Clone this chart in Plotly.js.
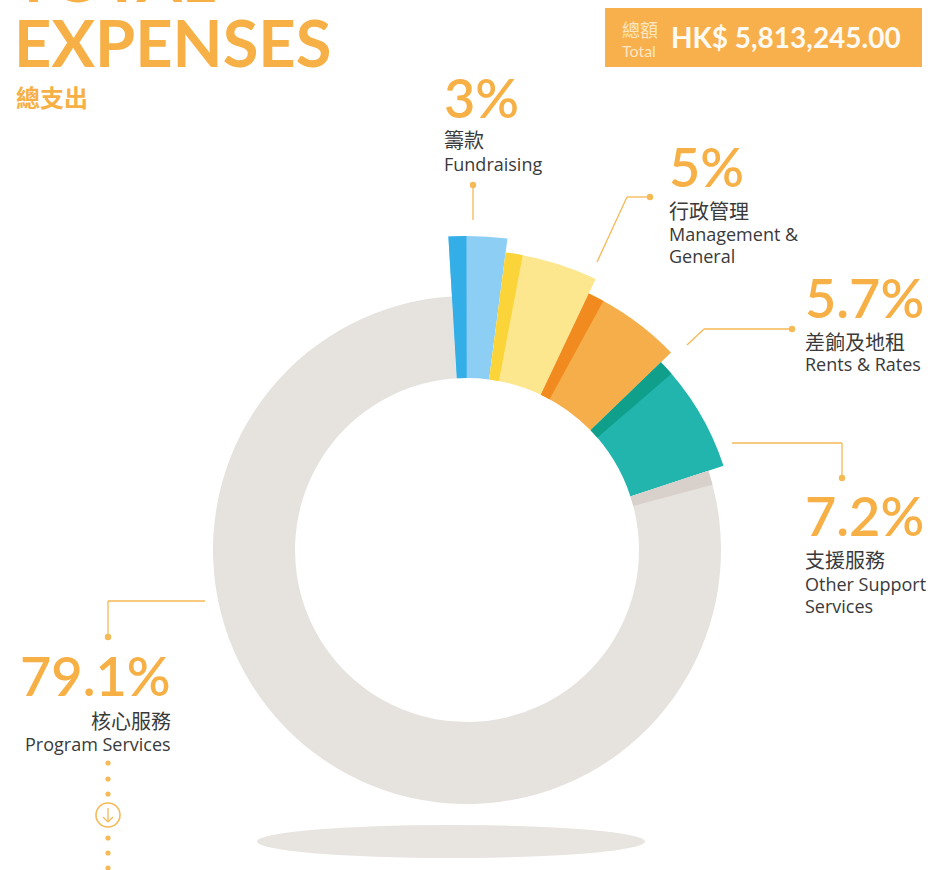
<!DOCTYPE html>
<html>
<head>
<meta charset="utf-8">
<script src="https://cdn.plot.ly/plotly-3.0.1.min.js"></script>
<style>
  html, body { margin: 0; padding: 0; background: #ffffff; }
  #chart { width: 936px; height: 870px; }
</style>
</head>
<body>
<div id="chart"></div>
<script>
// ---------- DATA ----------
const categories   = ['Fundraising', 'Management & General', 'Rents & Rates', 'Other Support Services', 'Program Services'];
const categoriesZh = ['籌款', '行政管理', '差餉及地租', '支援服務', '核心服務'];
const labelLinesEn = [['Fundraising'], ['Management &', 'General'], ['Rents & Rates'], ['Other Support', 'Services'], ['Program Services']];
const percentages  = [3, 5, 5.7, 7.2, 79.1];
const totalAmount  = 5813245.00;

// ---------- STYLE ----------
const W = 936, H = 870;
const CX = 467, CY = 550;          // donut centre (px)
const RMAX = 320;                  // radial range maps to 320 px
const innerR = 172;
const outerR = [314, 300, 284, 270, 254];
const mainColors  = ['#8dcff4', '#fde78e', '#f6ae4a', '#21b5ae', '#e6e2de'];
const stripColors = ['#34aee6', '#fbd43a', '#f18b1f', '#0f9f8b', '#d8d0ca'];
const stripDeg = 3.3;
const startDeg = -3.4;
const ORANGE = '#f6b045';
const LINE = '#f5b955';
const TEXT = '#3a3a3a';
const LATIN = 'Lato, "Noto Sans", sans-serif';
const LABEL = '"Open Sans", Lato, sans-serif';
const CJK = '"Noto Sans CJK TC", "Noto Sans CJK SC", sans-serif';

// ---------- geometry from data ----------
const widths = percentages.map(p => p * 3.6);
const starts = [];
let acc = startDeg;
widths.forEach(w => { starts.push(acc); acc += w; });
const centers = starts.map((s, i) => s + widths[i] / 2);

const px = x => x / W;
const py = y => 1 - y / H;

const mainTrace = {
  type: 'barpolar',
  theta: centers,
  width: widths,
  base: outerR.map(() => innerR),
  r: outerR.map(r => r - innerR),
  marker: { color: mainColors, line: { width: 0 } },
  text: categories,
  hoverinfo: 'text',
  showlegend: false
};
const stripTrace = {
  type: 'barpolar',
  theta: starts.map(s => s + stripDeg / 2),
  width: starts.map(() => stripDeg),
  base: outerR.map(() => innerR),
  r: outerR.map(r => r - innerR),
  marker: { color: stripColors, line: { width: 0 } },
  hoverinfo: 'skip',
  showlegend: false
};

// ---------- annotations ----------
const ann = [];
function txt(text, x, y, size, color, family, xanchor, weight, height) {
  const a = {
    text: text, x: px(x), y: py(y), xref: 'paper', yref: 'paper',
    xanchor: xanchor || 'left', yanchor: 'middle', showarrow: false,
    font: { size: size, color: color, family: family, weight: weight || 400 }
  };
  if (height) a.height = height;
  ann.push(a);
}
// Title
txt('TOTAL', 12, -23, 65, ORANGE, LATIN, 'left', 700);
txt('EXPENSES', 12, 42, 65, ORANGE, LATIN, 'left', 700, 56);
txt('總支出', 14, 96, 24, ORANGE, CJK, 'left', 700);

// Total box
txt('總額', 620, 29, 18, '#fde6c2', CJK, 'left', 400);
txt('Total', 620, 50, 16, '#fde6c2', LATIN, 'left', 400);
txt('HK$ ' + totalAmount.toLocaleString('en-US', { minimumFractionDigits: 2, maximumFractionDigits: 2 }),
    669, 37, 28, '#fffaf2', LATIN, 'left', 700);

// Category labels
const pctFmt = p => p + '%';
const labelPos = [
  { x: 442, pct: 97,  zh: 139, en: [164],       anchor: 'left' },
  { x: 667, pct: 166, zh: 210, en: [234, 256],  anchor: 'left' },
  { x: 803, pct: 297, zh: 341, en: [364],       anchor: 'left' },
  { x: 803, pct: 515, zh: 559, en: [584, 606],  anchor: 'left' },
  { x: 173, pct: 675, zh: 720, en: [744],       anchor: 'right' }
];
percentages.forEach((p, i) => {
  const L = labelPos[i];
  txt(pctFmt(p), L.x, L.pct, 54, ORANGE, LATIN, L.anchor, 600, 48);
  txt(categoriesZh[i], L.x, L.zh, 20, TEXT, CJK, L.anchor, 400, 22);
  labelLinesEn[i].forEach((line, k) => txt(line, L.x, L.en[k], 18, TEXT, LABEL, L.anchor, 400, 22));
});

// ---------- shapes ----------
const shapes = [];
function seg(x0, y0, x1, y1) {
  shapes.push({ type: 'line', xref: 'paper', yref: 'paper', x0: px(x0), y0: py(y0), x1: px(x1), y1: py(y1),
    line: { color: LINE, width: 1.3 } });
}
function dot(x, y, r) {
  shapes.push({ type: 'circle', xref: 'paper', yref: 'paper', x0: px(x - r), x1: px(x + r), y0: py(y + r), y1: py(y - r),
    fillcolor: LINE, line: { width: 0 } });
}
// box
shapes.push({ type: 'rect', xref: 'paper', yref: 'paper', x0: px(605), x1: px(922), y0: py(67), y1: py(8),
  fillcolor: '#f7b04c', line: { width: 0 }, layer: 'below' });
// shadow ellipse
shapes.push({ type: 'circle', xref: 'paper', yref: 'paper', x0: px(257), x1: px(645), y0: py(858), y1: py(825),
  fillcolor: '#e8e4df', line: { width: 0 }, layer: 'below' });

// leaders
seg(473, 185, 473, 220); dot(473, 185, 3.2);
seg(650, 197, 627, 197); seg(627, 197, 597, 262); dot(650, 197, 3.2);
seg(792, 329, 704, 329); seg(704, 329, 687, 345); dot(792, 329, 3.2);
seg(732, 443, 842, 443); seg(842, 443, 842, 478); dot(842, 478, 3.2);
seg(205, 601, 108, 601); seg(108, 601, 108, 637); dot(108, 637, 3.2);

// scroll decoration
[763, 779, 794, 838, 853, 868].forEach(y => dot(108, y, 2.6));
shapes.push({ type: 'circle', xref: 'paper', yref: 'paper', x0: px(96), x1: px(120), y0: py(827), y1: py(803),
  fillcolor: 'rgba(0,0,0,0)', line: { color: LINE, width: 1.6 } });
seg(108, 808, 108, 822);
seg(103, 817, 108, 822); seg(113, 817, 108, 822);

const layout = {
  width: W, height: H,
  margin: { l: 0, r: 0, t: 0, b: 0 },
  paper_bgcolor: '#ffffff',
  plot_bgcolor: '#ffffff',
  showlegend: false,
  polar: {
    domain: { x: [px(CX - RMAX), px(CX + RMAX)], y: [py(CY + RMAX), py(CY - RMAX)] },
    bgcolor: 'rgba(0,0,0,0)',
    barmode: 'overlay',
    bargap: 0,
    hole: 0,
    radialaxis: { visible: false, range: [0, RMAX], showgrid: false, showline: false, showticklabels: false, ticks: '' },
    angularaxis: { visible: false, rotation: 90, direction: 'clockwise', showgrid: false, showline: false, showticklabels: false, ticks: '' }
  },
  annotations: ann,
  shapes: shapes
};

Plotly.newPlot('chart', [mainTrace, stripTrace], layout, { displayModeBar: false, staticPlot: true });
</script>
</body>
</html>
